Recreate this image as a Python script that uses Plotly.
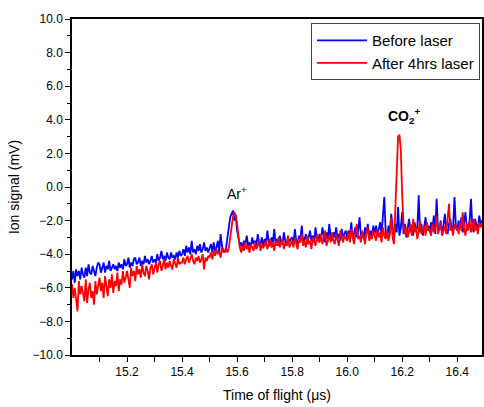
import numpy as np
import plotly.graph_objects as go

# Time axis: sampled every 0.005 us from 15.000 to 16.490 us
t_start = 15.0
t_step = 0.005

before_laser = [
    -5.5, -5.0, -5.7, -4.9, -5.3, -5.0, -5.5, -4.8, -5.2, -5.4, -4.8, -5.3, -4.6, -5.1, -5.2, -4.7, -5.0, -5.3, -4.8, -4.5,
    -4.6, -5.1, -4.8, -4.5, -5.1, -4.7, -4.9, -4.4, -5.0, -4.8, -4.6, -4.9, -4.7, -5.0, -4.5, -4.8, -4.6, -4.9, -4.3, -4.7,
    -4.6, -4.2, -4.8, -4.5, -4.7, -4.3, -4.2, -4.6, -4.5, -4.2, -4.7, -4.4, -4.6, -4.1, -4.5, -4.3, -4.6, -4.4, -4.1, -4.5,
    -4.3, -4.5, -4.0, -4.4, -4.2, -3.8, -4.3, -4.1, -4.4, -3.9, -4.2, -4.3, -3.9, -4.2, -4.1, -4.3, -3.9, -4.2, -3.8, -4.1,
    -4.0, -3.7, -4.1, -3.5, -3.9, -3.6, -4.0, -3.2, -3.9, -3.7, -4.0, -3.5, -3.8, -3.4, -3.9, -3.7, -3.3, -3.8, -3.6, -3.9,
    -3.7, -3.4, -3.9, -3.3, -3.8, -3.6, -3.2, -3.9, -2.8, -3.5, -3.8, -3.9, -3.6, -3.0, -2.4, -1.8, -1.6, -1.4, -2.0, -1.7,
    -2.6, -3.2, -3.5, -3.3, -3.7, -3.2, -3.4, -2.9, -3.5, -3.3, -3.6, -3.0, -3.4, -3.2, -3.5, -2.8, -3.3, -3.4, -3.0, -3.5,
    -3.1, -3.4, -2.6, -3.3, -3.5, -3.0, -3.3, -2.5, -3.4, -3.1, -3.5, -2.9, -3.3, -3.4, -2.7, -3.2, -3.5, -3.0, -3.3, -3.1,
    -3.0, -3.3, -2.5, -3.2, -3.4, -2.9, -3.1, -2.3, -3.3, -3.1, -2.8, -3.4, -3.0, -2.6, -3.2, -2.9, -3.3, -2.4, -3.1, -3.2,
    -2.8, -3.2, -2.4, -3.0, -3.3, -2.7, -3.1, -2.2, -3.0, -3.2, -2.7, -3.0, -2.4, -3.1, -2.8, -3.2, -2.5, -3.0, -2.8, -2.6,
    -3.0, -2.6, -2.9, -2.1, -3.1, -2.7, -2.4, -3.0, -2.6, -1.8, -2.9, -2.7, -3.1, -2.4, -2.8, -2.2, -3.0, -2.6, -2.9, -2.3,
    -2.8, -2.3, -2.9, -2.5, -2.1, -2.8, -1.9, -0.6, -2.7, -3.0, -2.3, -2.8, -1.6, -2.6, -3.1, -2.2, -2.7, -1.2, -2.9, -2.4,
    -1.5, -2.8, -2.2, -3.0, -2.5, -1.9, -2.7, -2.3, -2.9, -2.1, -2.6, -2.4, -0.5, -2.7, -2.2, -2.9, -2.4, -1.8, -2.6, -2.3,
    -2.7, -2.1, -2.5, -1.7, -2.8, -0.7, -2.4, -2.6, -2.0, -2.7, -2.3, -1.6, -2.5, -2.8, -2.2, -1.9, -2.6, -2.4, -0.6, -2.3,
    -2.6, -2.0, -2.5, -1.8, -2.7, -2.2, -1.5, -2.6, -2.3, -2.0, -0.7, -2.4, -2.7, -1.9, -2.3, -2.5, -1.7, -2.2, -2.0,
]

after_4hrs_laser = [
    -5.8, -6.6, -6.0, -6.8, -7.4, -5.6, -6.4, -5.9, -6.3, -6.8, -5.5, -6.9, -6.1, -5.7, -6.6, -6.2, -7.0, -5.6, -6.4, -5.9,
    -5.4, -6.2, -5.7, -6.6, -5.3, -5.9, -6.5, -5.5, -6.0, -5.2, -6.3, -5.6, -5.9, -5.1, -6.2, -5.5, -5.8, -5.0, -5.7, -5.4,
    -5.0, -5.5, -6.0, -4.8, -5.3, -5.0, -5.6, -4.7, -5.2, -4.9, -5.4, -4.6, -5.1, -5.3, -4.7, -5.0, -5.5, -4.8, -4.6, -5.2,
    -4.9, -4.5, -5.1, -4.6, -4.4, -5.0, -4.7, -4.3, -4.9, -4.5, -4.8, -4.4, -4.7, -4.9, -4.3, -4.6, -4.8, -4.2, -4.6, -4.5,
    -4.5, -4.2, -4.6, -4.3, -4.1, -4.5, -4.3, -4.0, -4.4, -4.6, -4.2, -4.4, -4.1, -4.5, -4.3, -4.0, -4.9, -4.2, -4.4, -4.1,
    -4.2, -3.9, -4.3, -3.8, -4.1, -3.7, -4.0, -3.9, -4.2, -3.6, -3.9, -3.8, -3.7, -3.9, -3.6, -3.0, -2.3, -1.8, -1.5, -1.7,
    -2.2, -3.0, -3.6, -3.9, -3.5, -3.8, -3.3, -3.7, -3.5, -3.9, -3.4, -3.6, -3.8, -3.3, -3.7, -3.5, -3.2, -3.8, -3.4, -3.6,
    -3.5, -3.2, -3.7, -3.4, -3.1, -3.6, -3.3, -3.8, -3.2, -3.5, -3.0, -3.6, -3.4, -3.1, -3.7, -3.3, -3.5, -2.9, -3.6, -3.4,
    -3.2, -3.6, -3.0, -3.4, -3.7, -3.1, -3.3, -2.8, -3.5, -3.2, -3.6, -2.9, -3.4, -3.2, -3.7, -3.0, -3.3, -3.5, -2.8, -3.2,
    -3.3, -2.8, -3.4, -3.0, -2.6, -3.5, -3.1, -2.9, -3.3, -2.7, -3.2, -3.4, -2.8, -3.1, -3.5, -2.6, -3.0, -3.3, -2.9, -3.1,
    -3.2, -2.7, -3.3, -2.5, -3.0, -3.4, -2.8, -2.2, -3.1, -2.9, -3.3, -2.6, -3.0, -3.4, -2.7, -2.4, -3.2, -2.9, -3.1, -2.6,
    -2.9, -3.2, -2.5, -3.0, -2.7, -3.3, -2.4, -2.9, -3.1, -2.6, -3.2, -2.8, -1.8, -3.0, -3.4, -1.2, 0.6, 3.0, 3.1, 2.2,
    -0.5, -2.3, -2.8, -2.4, -3.0, -2.6, -2.2, -2.9, -1.9, -2.7, -2.4, -3.1, -2.5, -2.0, -2.8, -2.6, -2.3, -2.9, -2.1, -2.6,
    -2.5, -2.9, -2.2, -2.7, -2.4, -1.7, -2.8, -2.5, -2.1, -2.9, -2.6, -2.3, -2.8, -2.0, -1.0, -2.6, -2.4, -2.9, -2.2, -2.5,
    -2.4, -2.8, -2.1, -2.6, -1.5, -2.5, -2.9, -2.2, -2.6, -2.0, -2.7, -2.4, -1.9, -2.6, -2.3, -2.8, -2.1, -2.4, -2.2,
]

x_tick_vals = [15.2, 15.4, 15.6, 15.8, 16.0, 16.2, 16.4]
x_minor_vals = [15.1, 15.3, 15.5, 15.7, 15.9, 16.1, 16.3]
y_tick_vals = [-10, -8, -6, -4, -2, 0, 2, 4, 6, 8, 10]
y_minor_vals = [-9, -7, -5, -3, -1, 1, 3, 5, 7, 9]

time = t_start + t_step * np.arange(len(before_laser))

FONT = "Liberation Sans, Arial, sans-serif"

fig = go.Figure()
fig.add_trace(go.Scatter(x=time, y=before_laser, mode="lines", name="Before laser",
                         line=dict(color="#0000ff", width=1.8)))
fig.add_trace(go.Scatter(x=time, y=after_4hrs_laser, mode="lines", name="After 4hrs laser",
                         line=dict(color="#ff0000", width=1.8)))

fig.add_annotation(x=15.6, y=-0.35, text="Ar<sup>+</sup>", showarrow=False,
                   font=dict(family=FONT, size=14, color="black"))
fig.add_annotation(x=16.205, y=4.2, text="<b>CO<sub>2</sub><sup>+</sup></b>", showarrow=False,
                   font=dict(family=FONT, size=14, color="black"))

fig.update_layout(
    width=484, height=407,
    margin=dict(l=72, r=0, t=19, b=52),
    paper_bgcolor="white", plot_bgcolor="white",
    font=dict(family=FONT, size=12, color="black"),
    showlegend=True,
    legend=dict(x=0.995, xanchor="right", y=0.988, yanchor="top",
                bgcolor="white", bordercolor="#444444", borderwidth=1,
                font=dict(family=FONT, size=15, color="black"),
                tracegroupgap=0, itemwidth=50),
    xaxis=dict(range=[15.0, 16.49], tickmode="array", tickvals=x_tick_vals,
               tickformat=".1f", ticks="outside", ticklen=5, tickwidth=1, tickcolor="black",
               showline=True, linecolor="black", linewidth=1.5, mirror=True,
               showgrid=False, zeroline=False,
               minor=dict(tickmode="array", tickvals=x_minor_vals, ticks="outside", ticklen=5,
                          tickcolor="black", showgrid=False),
               tickfont=dict(family=FONT, size=12, color="black"),
               title=dict(text="Time of flight (μs)", font=dict(family=FONT, size=14, color="black"),
                          standoff=12)),
    yaxis=dict(range=[-10, 10], tickmode="array", tickvals=y_tick_vals,
               tickformat=".1f", ticks="outside", ticklen=5, tickwidth=1, tickcolor="black",
               showline=True, linecolor="black", linewidth=1.5, mirror=True,
               showgrid=False, zeroline=False,
               minor=dict(tickmode="array", tickvals=y_minor_vals, ticks="outside", ticklen=3,
                          tickcolor="black", showgrid=False),
               tickfont=dict(family=FONT, size=12, color="black"),
               title=dict(text="Ion signal (mV)", font=dict(family=FONT, size=14, color="black"),
                          standoff=10)),
)

fig.write_html("out.html")
